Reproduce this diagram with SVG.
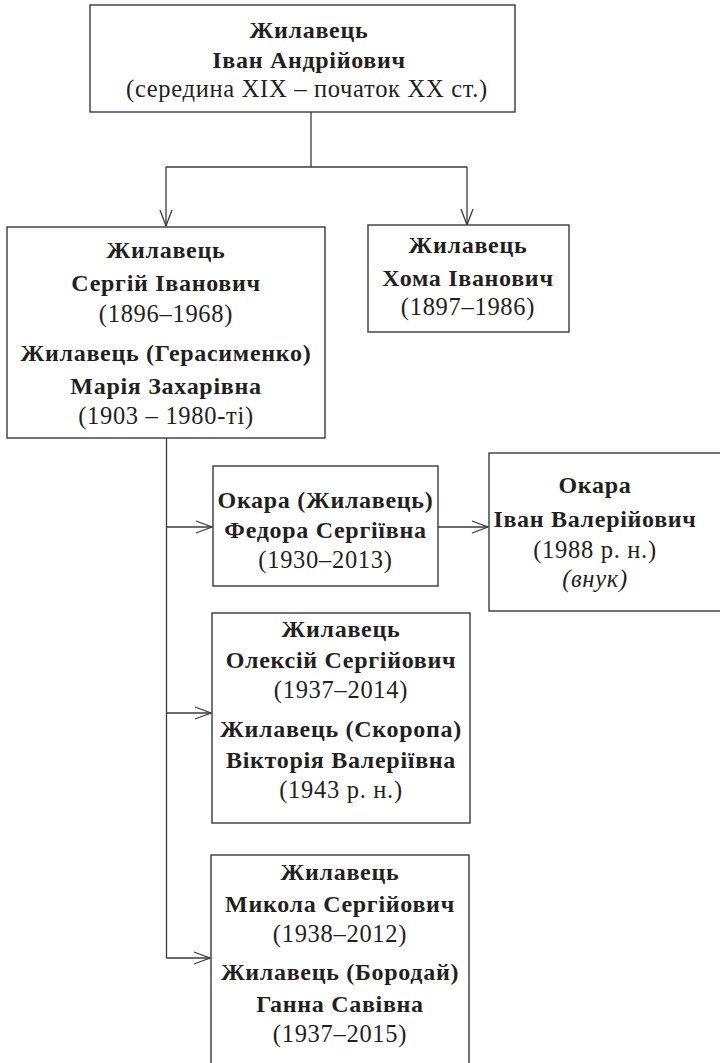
<svg xmlns="http://www.w3.org/2000/svg" width="720" height="1063" viewBox="0 0 720 1063">
<style>
.box{fill:#fff;stroke:#3a3a3a;stroke-width:1.4}
.ln{fill:none;stroke:#3a3a3a;stroke-width:1.3}
text{font-family:"Liberation Serif","DejaVu Serif",serif;font-size:24.5px;letter-spacing:0.7px;fill:#231f20;text-anchor:middle}
.b{font-weight:bold;font-size:24px;letter-spacing:0.7px}
.i{font-style:italic}
</style>
<defs>
<marker id="arr" markerUnits="userSpaceOnUse" markerWidth="20" markerHeight="16" refX="16" refY="7" orient="auto" overflow="visible">
<path d="M0,1 L16,7 L0,13" fill="none" stroke="#3a3a3a" stroke-width="1.3"/>
</marker>
</defs>
<g id="connectors">
<path class="ln" d="M311,112 V167"/>
<path class="ln" d="M166,167 H467"/>
<path class="ln" d="M166,167 V226" marker-end="url(#arr)"/>
<path class="ln" d="M467,167 V225" marker-end="url(#arr)"/>
<path class="ln" d="M166.5,438 V958"/>
<path class="ln" d="M166.5,527 H212" marker-end="url(#arr)"/>
<path class="ln" d="M438,527 H488" marker-end="url(#arr)"/>
<path class="ln" d="M166.5,713 H211" marker-end="url(#arr)"/>
<path class="ln" d="M166.5,958 H210" marker-end="url(#arr)"/>
</g>
<g id="n-ivan">
<rect class="box" x="90" y="5" width="425" height="107"/>
<text class="b" x="309" y="38">Жилавець</text>
<text class="b" x="309" y="68">Іван Андрійович</text>
<text x="307" y="97">(середина XIX – початок XX ст.)</text>
</g>
<g id="n-serhii">
<rect class="box" x="7" y="227" width="318" height="211"/>
<text class="b" x="166" y="258">Жилавець</text>
<text class="b" x="166" y="291">Сергій Іванович</text>
<text x="166" y="322">(1896–1968)</text>
<text class="b" x="166" y="361">Жилавець (Герасименко)</text>
<text class="b" x="166" y="394">Марія Захарівна</text>
<text x="166" y="424">(1903 – 1980-ті)</text>
</g>
<g id="n-khoma">
<rect class="box" x="368" y="225" width="201" height="107"/>
<text class="b" x="468" y="253">Жилавець</text>
<text class="b" x="468" y="286">Хома Іванович</text>
<text x="468" y="315">(1897–1986)</text>
</g>
<g id="n-fedora">
<rect class="box" x="213" y="466" width="225" height="120"/>
<text class="b" x="325.5" y="508">Окара (Жилавець)</text>
<text class="b" x="325.5" y="538">Федора Сергіївна</text>
<text x="325.5" y="568">(1930–2013)</text>
</g>
<g id="n-okara">
<rect class="box" x="489" y="453" width="233" height="158"/>
<text class="b" x="595" y="493">Окара</text>
<text class="b" x="595" y="527">Іван Валерійович</text>
<text x="595" y="558">(1988 р. н.)</text>
<text class="i" x="595" y="587">(внук)</text>
</g>
<g id="n-oleksii">
<rect class="box" x="212" y="613" width="258" height="210"/>
<text class="b" x="341" y="637">Жилавець</text>
<text class="b" x="341" y="668">Олексій Сергійович</text>
<text x="341" y="698">(1937–2014)</text>
<text class="b" x="341" y="737">Жилавець (Скоропа)</text>
<text class="b" x="341" y="768">Вікторія Валеріївна</text>
<text x="341" y="798">(1943 р. н.)</text>
</g>
<g id="n-mykola">
<rect class="box" x="211" y="855" width="258" height="215"/>
<text class="b" x="340" y="880">Жилавець</text>
<text class="b" x="340" y="912">Микола Сергійович</text>
<text x="340" y="942">(1938–2012)</text>
<text class="b" x="340" y="980">Жилавець (Бородай)</text>
<text class="b" x="340" y="1012">Ганна Савівна</text>
<text x="340" y="1042">(1937–2015)</text>
</g>
</svg>
